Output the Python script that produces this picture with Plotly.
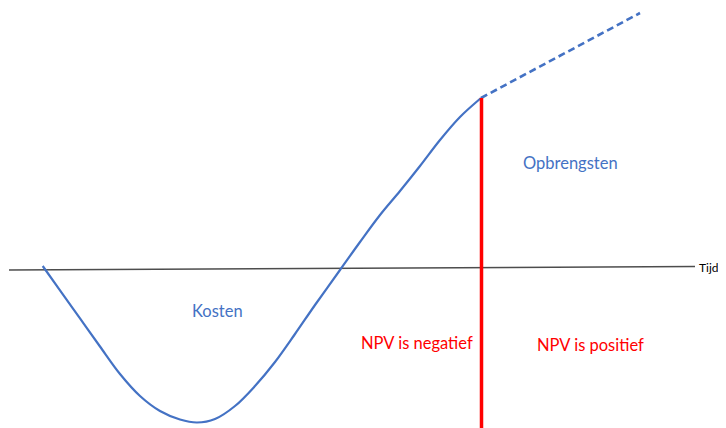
import plotly.graph_objects as go

# Blue NPV curve (solid part), in chart units (x = time, y = value)
curve_x = [42.7, 60, 80, 100, 120, 140, 160, 180, 197, 215, 235, 255, 275,
           295, 315, 340, 360, 380, 400, 420, 440, 460, 481]
curve_y = [162, 137.7, 109.6, 81.5, 54, 32, 17, 8.5, 5.5, 9, 22, 42, 66,
           94, 123, 158, 186, 213, 237, 262, 288, 311, 330]
# Dashed continuation
dash_x = [481, 640]
dash_y = [330, 415]
# Time axis
axis_x = [9, 695]
axis_y = [158, 161.5]
# Red vertical line (NPV = 0 moment)
red_x = [481.5, 481.5]
red_y = [330, 0]

labels = ["Kosten", "Opbrengsten", "NPV is negatief", "NPV is positief", "Tijd"]
label_x = [217, 570, 417, 590, 709]
label_y = [117, 265, 85, 83, 161]
label_col = ["#4472C4", "#4472C4", "#FF0000", "#FF0000", "#000000"]
label_size = [16.5, 16.5, 16.5, 16.5, 12]

BLUE = "#4472C4"
fig = go.Figure()
fig.add_trace(go.Scatter(x=axis_x, y=axis_y, mode="lines",
                         line=dict(color="#4d4d4d", width=1.5), hoverinfo="skip"))
fig.add_trace(go.Scatter(x=curve_x, y=curve_y, mode="lines",
                         line=dict(color=BLUE, width=2.2, shape="spline", smoothing=1.0), hoverinfo="skip"))
fig.add_trace(go.Scatter(x=dash_x, y=dash_y, mode="lines",
                         line=dict(color=BLUE, width=2.6, dash="7px,4px"), hoverinfo="skip"))
fig.add_trace(go.Scatter(x=red_x, y=red_y, mode="lines",
                         line=dict(color="#FF0000", width=3.5), hoverinfo="skip"))
for t, x, y, c, s in zip(labels, label_x, label_y, label_col, label_size):
    fig.add_annotation(x=x, y=y, text=t, showarrow=False,
                       font=dict(color=c, size=s, family="Lato, Open Sans, sans-serif"),
                       xanchor="center", yanchor="middle")

# The page body has an 8px margin, so the figure is 8px smaller and the ranges start at 8px
fig.update_layout(
    width=718, height=420, margin=dict(l=0, r=0, t=0, b=0),
    paper_bgcolor="white", plot_bgcolor="white", showlegend=False,
    xaxis=dict(range=[8, 726], visible=False, fixedrange=True),
    yaxis=dict(range=[0, 420], visible=False, fixedrange=True),
)
fig.write_html("out.html")
